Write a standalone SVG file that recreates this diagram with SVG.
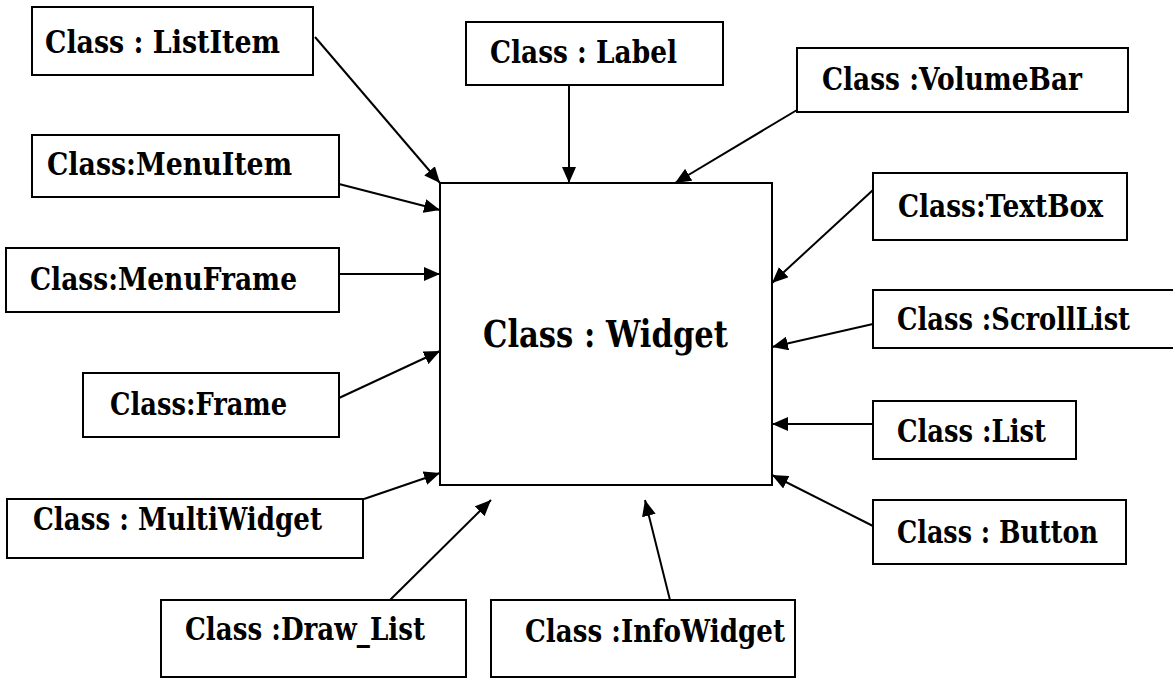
<svg xmlns="http://www.w3.org/2000/svg" width="1173" height="679" viewBox="0 0 1173 679">
  <style>
    .box { fill: #fff; stroke: #000; stroke-width: 2; }
    .edge { stroke: #000; stroke-width: 2; fill: none; marker-end: url(#arrow); }
  </style>
  <defs>
    <marker id="arrow" markerUnits="userSpaceOnUse" markerWidth="18" markerHeight="14" refX="16" refY="7" orient="auto">
      <path d="M0,0 L16,7 L0,14 Z" fill="#000"/>
    </marker>
  </defs>
  <rect width="1173" height="679" fill="#fff"/>

  <!-- every label shares one bold serif face; textLength pins the printed width -->
  <g font-family="DejaVu Serif, Liberation Serif, serif" font-weight="700" font-size="32" fill="#000">
  <g id="widget">
    <rect class="box" x="440" y="183" width="332" height="302"/>
    <text x="483" y="347" font-size="38" textLength="245" lengthAdjust="spacingAndGlyphs">Class : Widget</text>
  </g>

  <g id="listitem">
    <rect class="box" x="32" y="7" width="281" height="68"/>
    <text x="45" y="53" textLength="235" lengthAdjust="spacingAndGlyphs">Class : ListItem</text>
  </g>
  <g id="label">
    <rect class="box" x="466" y="22" width="257" height="63"/>
    <text x="490" y="63" textLength="187" lengthAdjust="spacingAndGlyphs">Class : Label</text>
  </g>
  <g id="volumebar">
    <rect class="box" x="797" y="48" width="331" height="64"/>
    <text x="822" y="90" textLength="260" lengthAdjust="spacingAndGlyphs">Class :VolumeBar</text>
  </g>
  <g id="menuitem">
    <rect class="box" x="32" y="135" width="307" height="62"/>
    <text x="47" y="175" textLength="245" lengthAdjust="spacingAndGlyphs">Class:MenuItem</text>
  </g>
  <g id="textbox">
    <rect class="box" x="873" y="173" width="254" height="67"/>
    <text x="898" y="217" textLength="205" lengthAdjust="spacingAndGlyphs">Class:TextBox</text>
  </g>
  <g id="menuframe">
    <rect class="box" x="6" y="248" width="333" height="64"/>
    <text x="30" y="290" textLength="267" lengthAdjust="spacingAndGlyphs">Class:MenuFrame</text>
  </g>
  <g id="scrolllist">
    <!-- this box runs off the right edge of the sheet -->
    <rect class="box" x="873" y="290" width="301" height="58"/>
    <text x="897" y="330" textLength="233" lengthAdjust="spacingAndGlyphs">Class :ScrollList</text>
  </g>
  <g id="frame">
    <rect class="box" x="83" y="373" width="256" height="64"/>
    <text x="110" y="415" textLength="177" lengthAdjust="spacingAndGlyphs">Class:Frame</text>
  </g>
  <g id="list">
    <rect class="box" x="873" y="401" width="203" height="58"/>
    <text x="897" y="442" textLength="149" lengthAdjust="spacingAndGlyphs">Class :List</text>
  </g>
  <g id="multiwidget">
    <rect class="box" x="7" y="499" width="356" height="59"/>
    <text x="33" y="530" textLength="289" lengthAdjust="spacingAndGlyphs">Class : MultiWidget</text>
  </g>
  <g id="button">
    <rect class="box" x="873" y="500" width="253" height="64"/>
    <text x="897" y="543" textLength="201" lengthAdjust="spacingAndGlyphs">Class : Button</text>
  </g>
  <g id="drawlist">
    <rect class="box" x="161" y="600" width="305" height="77"/>
    <text x="185" y="640" textLength="240" lengthAdjust="spacingAndGlyphs">Class :Draw_List</text>
  </g>
  <g id="infowidget">
    <rect class="box" x="491" y="600" width="304" height="77"/>
    <text x="525" y="642" textLength="260" lengthAdjust="spacingAndGlyphs">Class :InfoWidget</text>
  </g>
  </g>

  <g id="connectors">
    <line class="edge" x1="315" y1="37" x2="440" y2="183"/>
    <line class="edge" x1="569" y1="85" x2="569" y2="183"/>
    <line class="edge" x1="797" y1="110" x2="675" y2="183"/>
    <line class="edge" x1="339" y1="184" x2="440" y2="210"/>
    <line class="edge" x1="339" y1="274" x2="440" y2="274"/>
    <line class="edge" x1="339" y1="398" x2="440" y2="351"/>
    <line class="edge" x1="364" y1="499" x2="440" y2="473"/>
    <line class="edge" x1="390" y1="600" x2="491" y2="500"/>
    <line class="edge" x1="670" y1="600" x2="645" y2="500"/>
    <line class="edge" x1="873" y1="526" x2="772" y2="475"/>
    <line class="edge" x1="873" y1="424" x2="772" y2="424"/>
    <line class="edge" x1="873" y1="324" x2="772" y2="347"/>
    <line class="edge" x1="873" y1="190" x2="772" y2="283"/>
  </g>
</svg>
